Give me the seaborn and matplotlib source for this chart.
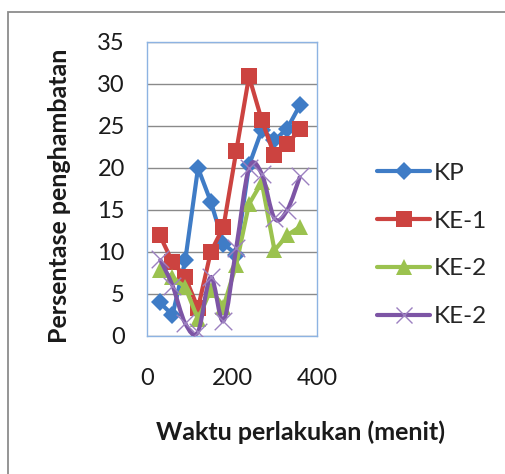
import numpy as np
import pandas as pd
import matplotlib.pyplot as plt
import seaborn as sns
from matplotlib.path import Path
from matplotlib.patches import PathPatch, Rectangle
from matplotlib.lines import Line2D

# data =============================================================
waktu = [30, 60, 90, 120, 150, 180, 210, 240, 270, 300, 330, 360]
kp = [4.0, 2.5, 9.0, 20.0, 16.0, 11.0, 9.7, 20.3, 24.5, 23.3, 24.7, 27.5]
ke1 = [12.0, 8.8, 7.0, 3.3, 10.0, 13.0, 22.0, 30.9, 25.7, 21.5, 22.8, 24.7]
ke2 = [7.8, 7.0, 5.8, 2.0, 5.5, 3.5, 8.5, 15.7, 18.3, 10.2, 12.0, 13.0]
ke2_b = [9.2, 6.0, 1.5, 0.5, 7.0, 1.8, 10.5, 20.0, 19.3, 14.0, 15.0, 19.0]
names = ["KP", "KE-1", "KE-2", "KE-2"]
colors = ["#3F7CC6", "#CC4340", "#9BC24F", "#7D55A5"]

df = pd.DataFrame({"waktu": waktu, "kp": kp, "ke1": ke1, "ke2": ke2, "ke2_b": ke2_b})

sns.set_theme(style="white")
plt.rcParams["font.family"] = ["Lato", "DejaVu Sans"]

fig = plt.figure(figsize=(5.06, 4.74), dpi=100)
fig.patches.append(
    Rectangle((8 / 506, -0.1), 1.2, 1.1 - 12 / 474, transform=fig.transFigure,
              fill=False, edgecolor="#8C8C8C", lw=1.3)
)
ax = fig.add_axes([147 / 506, 1 - 336 / 474, 170 / 506, 294 / 474])

sns.lineplot(data=df, x="waktu", y="kp", ax=ax, color=colors[0], lw=3,
             marker="D", markersize=9, markeredgewidth=0)
sns.lineplot(data=df, x="waktu", y="ke1", ax=ax, color=colors[1], lw=3,
             marker="s", markersize=11, markeredgewidth=0)
sns.lineplot(data=df, x="waktu", y="ke2", ax=ax, color=colors[2], lw=3,
             marker="^", markersize=12, markeredgewidth=0)

# smoothed line (like Excel "smoothed line") for the last series
x = np.array(waktu, dtype=float)
y = np.array(ke2_b, dtype=float)
verts = [(x[0], y[0])]
codes = [Path.MOVETO]
for i in range(len(x) - 1):
    i0 = max(i - 1, 0)
    i3 = min(i + 2, len(x) - 1)
    c1 = (x[i] + (x[i + 1] - x[i0]) / 6, y[i] + (y[i + 1] - y[i0]) / 6)
    c2 = (x[i + 1] - (x[i3] - x[i]) / 6, y[i + 1] - (y[i3] - y[i]) / 6)
    verts += [c1, c2, (x[i + 1], y[i + 1])]
    codes += [Path.CURVE4] * 3
ax.add_patch(PathPatch(Path(verts, codes), fill=False, edgecolor=colors[3], lw=3,
                       zorder=3))
sns.scatterplot(data=df, x="waktu", y="ke2_b", ax=ax, marker="x", s=160,
                color="#9C80C0", linewidth=1, zorder=4)

ax.set_xlim(0, 400)
ax.set_ylim(0, 35)
ax.set_xticks([0, 200, 400])
ax.set_yticks(range(0, 36, 5))
ax.grid(axis="y", color="#8A8A8A", lw=1)
ax.set_axisbelow(True)
for s in ax.spines.values():
    s.set_color("#8DB3E2")
    s.set_linewidth(1)
ax.tick_params(length=0, labelsize=17, colors="#1A1A1A")
ax.tick_params(axis="y", pad=16)
ax.tick_params(axis="x", pad=23)
ax.set_xlabel("")
ax.set_ylabel("")

fig.text(300 / 506, 1 - 432 / 474, "Waktu perlakukan (menit)", fontsize=18,
         fontweight="bold", ha="center", va="center", color="#1A1A1A")
fig.text(60 / 506, 1 - 196 / 474, "Persentase penghambatan", fontsize=18,
         fontweight="bold", ha="center", va="center", rotation=90, color="#1A1A1A")

handles = [
    Line2D([], [], color=colors[0], lw=3, marker="D", markersize=9, markeredgewidth=0),
    Line2D([], [], color=colors[1], lw=3, marker="s", markersize=11, markeredgewidth=0),
    Line2D([], [], color=colors[2], lw=3, marker="^", markersize=12, markeredgewidth=0),
    Line2D([], [], color=colors[3], lw=3, marker="x", markersize=12,
           markeredgecolor="#9C80C0", markeredgewidth=1),
]
fig.legend(handles, names, loc="center left", bbox_to_anchor=(377 / 506, 1 - 245 / 474),
           frameon=False, fontsize=17.5, handlelength=2.2, handletextpad=0.12,
           labelspacing=1.1, borderpad=0, borderaxespad=0)

plt.savefig("out.png", dpi=100)
